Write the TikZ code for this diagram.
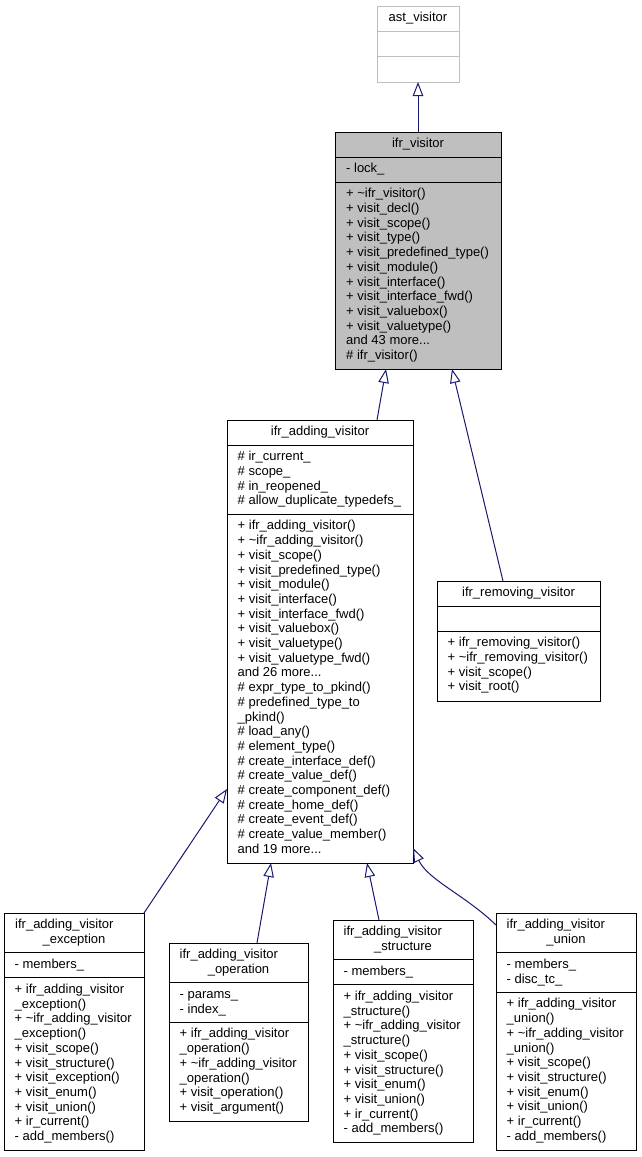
\documentclass[tikz,border=0pt]{standalone}
\usepackage{fontspec}
\setmainfont{Liberation Sans}
\usetikzlibrary{arrows.meta,calc}
\definecolor{edgeblue}{HTML}{191970}
\definecolor{boxgray}{HTML}{BFBFBF}
\newcommand\mdots{.\kern0pt.\kern0pt.}
\newcommand\txtlines[4]{\foreach \linetext [count=\i] in {#4}{\node[txt] (#1-\i) at (#2,{#3+(\i-1)*14.7}) {\linetext};}}
\newcommand\divline[3][black]{\draw[clsline,draw=#1] ($(#2.north west)+(0,#3)$) -- ($(#2.north east)+(0,#3)$);}
\begin{document}
\begin{tikzpicture}[x=1pt,y=-1pt,
  txt/.style={anchor=base west,inner sep=0pt,font=\fontsize{13}{15}\selectfont},
  ctxt/.style={txt,anchor=base},
  clsbox/.style={draw=black,line width=1pt,inner sep=0pt,outer sep=0pt,fill=white,anchor=north west},
  clsline/.style={line width=1pt},
  inherit/.style={draw=edgeblue,line width=1pt,-{Triangle[length=14pt,width=10.5pt,fill=white]}}]
\useasboundingbox[fill=white] (0,0) rectangle (641,1157);

% ast_visitor
\node[clsbox,draw=boxgray,minimum width=82pt,minimum height=76pt] (ast) at (377,6) {};
\divline[boxgray]{ast}{25}
\divline[boxgray]{ast}{50.5}
\node[ctxt] (ast-t) at (418,21.8) {ast\_visitor};

% ifr_visitor
\node[clsbox,fill=boxgray,minimum width=166pt,minimum height=237pt] (vis) at (335,132) {};
\divline{vis}{25}
\divline{vis}{50}
\node[ctxt] (vis-t) at (418,147.8) {ifr\_visitor};
\txtlines{visa}{346}{172.8}{- lock\_}
\txtlines{vism}{346}{197.8}{+ \textasciitilde ifr\_visitor(),+ visit\_decl(),+ visit\_scope(),+ visit\_type(),+ visit\_predefined\_type(),+ visit\_module(),+ visit\_interface(),+ visit\_interface\_fwd(),+ visit\_valuebox(),+ visit\_valuetype(),and 43 more\mdots,\# ifr\_visitor()}

% ifr_adding_visitor
\node[clsbox,minimum width=186pt,minimum height=443pt] (adding) at (227,420) {};
\divline{adding}{25}
\divline{adding}{94.1}
\node[ctxt] (adding-t) at (320,435.8) {ifr\_adding\_visitor};
\txtlines{adda}{237.5}{460.8}{\# ir\_current\_,\# scope\_,\# in\_reopened\_,\# allow\_duplicate\_typedefs\_}
\txtlines{addm}{237.5}{529.9}{+ ifr\_adding\_visitor(),+ \textasciitilde ifr\_adding\_visitor(),+ visit\_scope(),+ visit\_predefined\_type(),+ visit\_module(),+ visit\_interface(),+ visit\_interface\_fwd(),+ visit\_valuebox(),+ visit\_valuetype(),+ visit\_valuetype\_fwd(),and 26 more\mdots,\# expr\_type\_to\_pkind(),\# predefined\_type\_to,\_pkind(),\# load\_any(),\# element\_type(),\# create\_interface\_def(),\# create\_value\_def(),\# create\_component\_def(),\# create\_home\_def(),\# create\_event\_def(),\# create\_value\_member(),and 19 more\mdots}

% ifr_removing_visitor
\node[clsbox,minimum width=163pt,minimum height=120pt] (rem) at (437,581) {};
\divline{rem}{25}
\divline{rem}{50}
\node[ctxt] (rem-t) at (518.5,596.8) {ifr\_removing\_visitor};
\txtlines{remm}{447.5}{646.8}{+ ifr\_removing\_visitor(),+ \textasciitilde ifr\_removing\_visitor(),+ visit\_scope(),+ visit\_root()}

% ifr_adding_visitor_exception
\node[clsbox,minimum width=140pt,minimum height=237pt] (exc) at (4,913) {};
\divline{exc}{39.7}
\divline{exc}{64.7}
\node[txt] (exc-t1) at (15,928.8) {ifr\_adding\_visitor};
\node[ctxt] (exc-t2) at (74,943.5) {\_exception};
\txtlines{exca}{14.5}{968.5}{- members\_}
\txtlines{excm}{14.5}{993.5}{+ ifr\_adding\_visitor,\_exception(),+ \textasciitilde ifr\_adding\_visitor,\_exception(),+ visit\_scope(),+ visit\_structure(),+ visit\_exception(),+ visit\_enum(),+ visit\_union(),+ ir\_current(),- add\_members()}

% ifr_adding_visitor_operation
\node[clsbox,minimum width=139pt,minimum height=178pt] (op) at (169,943) {};
\divline{op}{39.7}
\divline{op}{79.1}
\node[txt] (op-t1) at (179.5,958.8) {ifr\_adding\_visitor};
\node[ctxt] (op-t2) at (238.5,973.5) {\_operation};
\txtlines{opa}{179.5}{998.5}{- params\_,- index\_}
\txtlines{opm}{179.5}{1037.9}{+ ifr\_adding\_visitor,\_operation(),+ \textasciitilde ifr\_adding\_visitor,\_operation(),+ visit\_operation(),+ visit\_argument()}

% ifr_adding_visitor_structure
\node[clsbox,minimum width=140pt,minimum height=222pt] (str) at (333,920) {};
\divline{str}{39.7}
\divline{str}{64.7}
\node[txt] (str-t1) at (343.5,935.8) {ifr\_adding\_visitor};
\node[ctxt] (str-t2) at (403,950.5) {\_structure};
\txtlines{stra}{343.5}{975.5}{- members\_}
\txtlines{strm}{343.5}{1000.5}{+ ifr\_adding\_visitor,\_structure(),+ \textasciitilde ifr\_adding\_visitor,\_structure(),+ visit\_scope(),+ visit\_structure(),+ visit\_enum(),+ visit\_union(),+ ir\_current(),- add\_members()}

% ifr_adding_visitor_union
\node[clsbox,minimum width=140pt,minimum height=237pt] (uni) at (496,913) {};
\divline{uni}{39.7}
\divline{uni}{79.1}
\node[txt] (uni-t1) at (506.5,928.8) {ifr\_adding\_visitor};
\node[ctxt] (uni-t2) at (566,943.5) {\_union};
\txtlines{unia}{506.5}{968.5}{- members\_,- disc\_tc\_}
\txtlines{unim}{506.5}{1007.9}{+ ifr\_adding\_visitor,\_union(),+ \textasciitilde ifr\_adding\_visitor,\_union(),+ visit\_scope(),+ visit\_structure(),+ visit\_enum(),+ visit\_union(),+ ir\_current(),- add\_members()}

% inheritance connectors
\draw[inherit] ($(vis.north west)+(83,0)$) -- (ast.south);
\draw[inherit] ($(adding.north west)+(150,0)$) -- ($(vis.south west)+(51,0)$);
\draw[inherit] ($(rem.north west)+(66,0)$) -- ($(vis.south west)+(117,0)$);
\draw[inherit] (exc.north east) -- ($(adding.north west)+(0,369)$);
\draw[inherit] ($(op.north west)+(88,0)$) -- ($(adding.south west)+(44,0)$);
\draw[inherit] ($(str.north west)+(46,0)$) -- ($(adding.south west)+(140,0)$);
\draw[inherit] ($(uni.north west)+(0,12)$) .. controls (465,895) and (428,880) .. ($(adding.south east)+(0,-15)$);
\end{tikzpicture}
\end{document}
